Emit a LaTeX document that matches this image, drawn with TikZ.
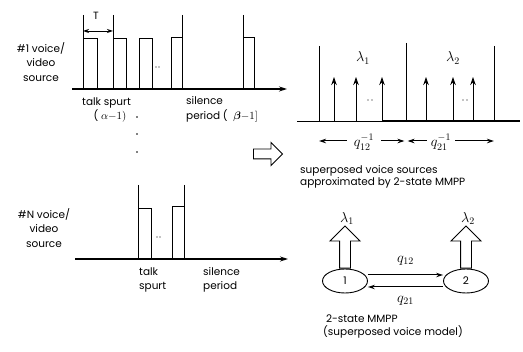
\documentclass[tikz,border=0pt]{standalone}
\usepackage{amsmath}
\usepackage{fontspec}
\setmainfont{Poppins}
\usetikzlibrary{arrows.meta, shapes.geometric, shapes.arrows}

\tikzset{
  sig/.style={line width=0.9pt},
  axis/.style={line width=1.1pt, -{Stealth[length=8pt,width=5pt]}},
  txt/.style={font=\fontsize{10.5}{14.5}\selectfont, inner sep=0pt},
  mlbl/.style={font=\fontsize{14.5}{15}\selectfont, inner sep=0pt},
  uparrow/.style={line width=0.9pt, -{Stealth[length=8pt,width=5.5pt]}},
  qarrow/.style={line width=1pt, -{Stealth[length=7pt,width=4.5pt]}},
  state/.style={draw, ellipse, line width=0.9pt, minimum width=45pt,
    minimum height=24pt, inner sep=0pt, font=\fontsize{10.5}{11}\selectfont},
  bigarrow/.style={draw, fill=white, single arrow, line width=0.9pt,
    single arrow head indent=0pt, inner sep=0pt}
}

\begin{document}
\begin{tikzpicture}[x=1pt, y=-1pt]
    \useasboundingbox (0,0) rectangle (523,352);

    % source #1
    \node[txt, align=center] (src1) at (41,62) {\#1 voice/\\video\\source};
    \draw[axis] (72,89) -- (287,89);
    \draw[sig] (83,15) -- (83,89) (83,38) -- (97,38) -- (97,89);
    \draw[sig] (113,15) -- (113,89) (113,38) -- (126,38) -- (126,89);
    \draw[sig] (139,89) -- (139,38) -- (152,38) -- (152,89);
    \draw[sig] (171,89) -- (171,37) -- (182,37) (182,15) -- (182,89);
    \draw[sig] (243,15) -- (243,89) (243,37) -- (254,37) -- (254,89);
    \fill (156,67) circle (0.7) (159,67) circle (0.7);

    \coordinate (ta) at (83,31);
    \coordinate (tb) at (113,31);
    \draw[line width=0.9pt, {Stealth[length=6pt,width=4pt]}-{Stealth[length=6pt,width=4pt]}] (ta) -- (tb);
    \node[txt] (tlbl) at (96,16) {T};

    \node[txt, anchor=west] (talk1) at (82,103) {talk spurt};
    \node[txt] (alpha1) at (110,116) {( $\alpha{-}1)$};
    \node[txt, anchor=west] (sil1) at (186,101) {silence};
    \node[txt, anchor=west] (per1) at (186,116) {period ( \ $\boldsymbol{\beta}{-}1]$};

    % vertical dots between sources
    \fill (137,117) circle (0.8);
    \fill (137,134) circle (0.8);
    \fill (137,152) circle (0.8);

    % source #N
    \node[txt, align=center] (srcN) at (44,228) {\#N voice/\\video\\source};
    \draw[axis] (75,259) -- (288,259);
    \draw[sig] (138,185) -- (138,259) (138,208) -- (151,208) -- (151,259);
    \draw[sig] (172,259) -- (172,206) -- (184,206) (184,185) -- (184,259);
    \fill (157,237) circle (0.7) (160,237) circle (0.7);
    \node[txt, align=left, anchor=west] (talkN) at (139,280) {talk\\spurt};
    \node[txt, align=left, anchor=west] (silN) at (203,280) {silence\\period};

    % transform arrow
    \node[bigarrow, minimum height=29pt, inner ysep=4.5pt,
      single arrow head extend=6.5pt] (conv) at (265.5,154) {};

    % superposed sources
    \draw[sig] (297,121) -- (382,121);
    \draw[line width=1.5pt] (382,121) -- (520,121);
    \draw[sig] (319,46) -- (319,121);
    \draw[sig] (406,43) -- (406,121);
    \draw[sig] (494,46) -- (494,121);
    \draw[uparrow] (334,121) -- (334,77);
    \draw[uparrow] (356,121) -- (356,77);
    \draw[uparrow] (382,121) -- (382,77);
    \draw[uparrow] (426,121) -- (426,77);
    \draw[uparrow] (453,121) -- (453,77);
    \draw[uparrow] (473,121) -- (473,77);
    \fill (368,100) circle (0.7) (372,100) circle (0.7);
    \fill (463,100) circle (0.7) (467,100) circle (0.7);
    \node[mlbl] (lam1) at (363,58) {$\lambda_1$};
    \node[mlbl] (lam2) at (453,58) {$\lambda_2$};

    \coordinate (v1) at (319,141);
    \coordinate (v2) at (406,141);
    \coordinate (v3) at (494,141);
    \node[mlbl, inner xsep=7pt] (qa) at (364,142) {$q_{12}^{-1}$};
    \node[mlbl, inner xsep=4pt] (qb) at (441,142) {$q_{21}^{-1}$};
    \draw[qarrow] (qa.west |- v1) -- (v1);
    \draw[qarrow, shorten >=1.5pt] (qa.east |- v2) -- (v2);
    \draw[qarrow, shorten >=1.5pt] (qb.west |- v2) -- (v2);
    \draw[qarrow] (qb.east |- v3) -- (v3);

    \node[txt, anchor=west, align=left, font=\fontsize{10.5}{11.5}\selectfont]
      (sup) at (300,177) {superposed voice sources\\approximated by 2-state MMPP};

    % 2-state MMPP
    \node[state] (s1) at (345,281) {1};
    \node[state] (s2) at (466,281) {2};
    \node[bigarrow, shape border rotate=90, minimum height=42pt, inner xsep=5pt,
      single arrow head extend=9.5pt, anchor=tail] (out1) at (s1.north) {};
    \node[bigarrow, shape border rotate=90, minimum height=42pt, inner xsep=5pt,
      single arrow head extend=9.5pt, anchor=tail] (out2) at (s2.north) {};
    \node[mlbl, anchor=south] (lamA) at ([xshift=2pt,yshift=1pt]out1.tip) {$\lambda_1$};
    \node[mlbl, anchor=south] (lamB) at ([xshift=2pt,yshift=1pt]out2.tip) {$\lambda_2$};

    \draw[qarrow] ([yshift=6pt]s1.east) -- ([yshift=6pt]s2.west)
      node[mlbl, midway, above=9pt] (q12) {$q_{12}$};
    \draw[qarrow] ([yshift=-6pt]s2.west) -- ([yshift=-6pt]s1.east)
      node[mlbl, midway, below=9pt] (q21) {$q_{21}$};

    \node[txt, anchor=west, align=left, font=\fontsize{10.5}{13}\selectfont]
      (model) at (323,327) {\ 2-state MMPP\\(superposed voice model)};
\end{tikzpicture}
\end{document}
